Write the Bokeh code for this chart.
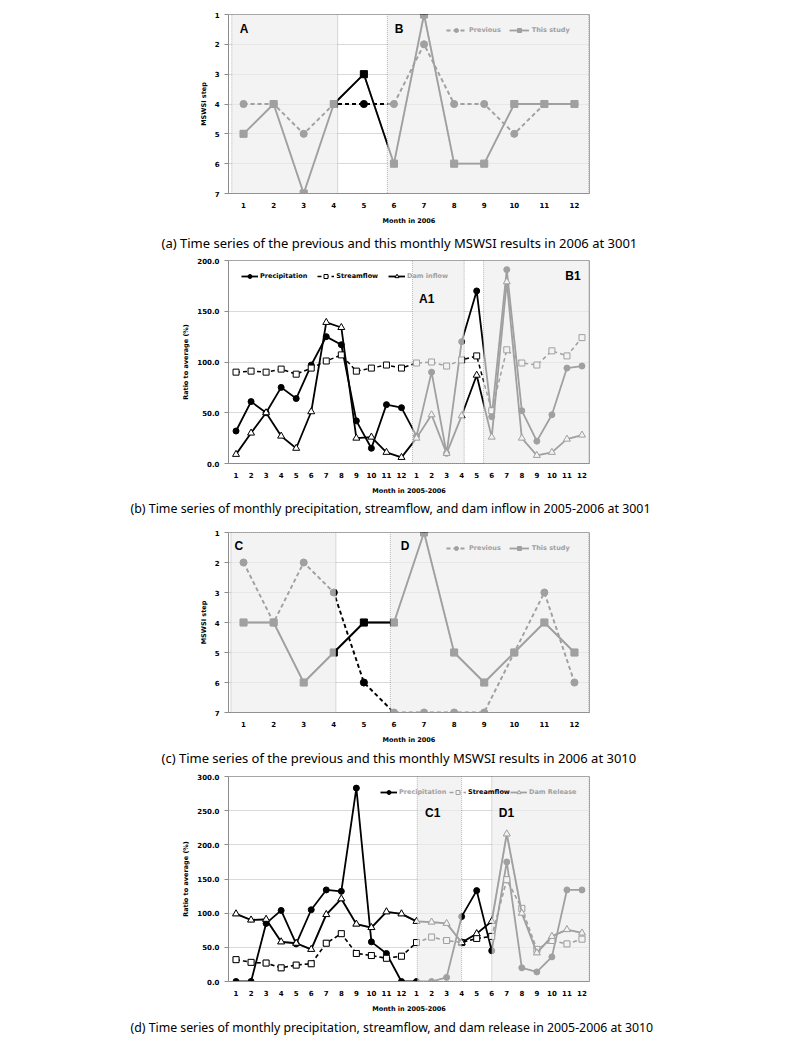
from bokeh.plotting import figure
from bokeh.models import (Range1d, FixedTicker, BoxAnnotation, Label, Legend,
                          LegendItem, Title, PrintfTickFormatter)
from bokeh.layouts import column
from bokeh.embed import file_html
from bokeh.resources import INLINE

# ---------------- data ----------------
months_12 = list(range(1, 13))
months_24 = list(range(1, 25))
month_ticks_24 = [str(m) for m in range(1, 13)] + [str(m) for m in range(1, 13)]

# (a) MSWSI step, 2006 at 3001
a_previous = [4, 4, 5, 4, 4, 4, 2, 4, 4, 5, 4, 4]
a_this_study = [5, 4, 7, 4, 3, 6, 1, 6, 6, 4, 4, 4]

# (b) ratio to average (%), 2005-2006 at 3001
b_precipitation = [32, 61, 50, 75, 64, 97, 125, 117, 42, 15, 58, 55,
                   27, 90, 10, 120, 170, 46, 191, 52, 22, 48, 94, 96]
b_streamflow = [90, 91, 90, 93, 88, 94, 101, 107, 91, 94, 97, 94,
                99, 100, 96, 102, 106, 52, 112, 99, 97, 111, 106, 124]
b_dam_inflow = [9, 30, 50, 27, 15, 51, 139, 134, 25, 26, 11, 6,
                25, 48, 10, 47, 87, 26, 179, 25, 8, 11, 24, 28]

# (c) MSWSI step, 2006 at 3010
c_previous = [2, 4, 2, 3, 6, 7, 7, 7, 7, 5, 3, 6]
c_this_study = [4, 4, 6, 5, 4, 4, 1, 5, 6, 5, 4, 5]

# (d) ratio to average (%), 2005-2006 at 3010
d_precipitation = [0, 0, 85, 104, 55, 105, 134, 132, 283, 58, 41, 0,
                   0, 0, 6, 95, 133, 45, 175, 20, 14, 36, 134, 134]
d_streamflow = [32, 28, 27, 20, 24, 26, 56, 70, 41, 38, 34, 37,
                57, 65, 60, 57, 63, 66, 149, 107, 47, 60, 55, 62]
d_dam_release = [99, 90, 91, 58, 56, 47, 98, 121, 84, 79, 102, 99,
                 88, 87, 85, 57, 70, 88, 216, 100, 42, 66, 76, 71]

captions = [
    "(a) Time series of the previous and this monthly MSWSI results in 2006 at 3001",
    "(b) Time series of monthly precipitation, streamflow, and dam inflow in 2005-2006 at 3001",
    "(c) Time series of the previous and this monthly MSWSI results in 2006 at 3010",
    "(d) Time series of monthly precipitation, streamflow, and dam release in 2005-2006 at 3010",
]

TICK_FONT = "DejaVu Sans"
OVER_FILL = "#ededed"
OVER_ALPHA = 0.675
GRAY = "#a0a0a0"       # black seen through the shaded boxes
BOX_BG = "#f3f3f3"     # white seen through the shaded boxes


def base_fig(frame_h, min_top, min_bottom, x_rng, y_rng, ticks_x, ticks_y):
    p = figure(frame_width=361, frame_height=frame_h,
               min_border_left=228, min_border_right=211,
               min_border_top=min_top, min_border_bottom=min_bottom,
               x_range=x_rng, y_range=y_rng,
               output_backend="svg", toolbar_location=None)
    p.outline_line_color = "#a6a6a6"
    p.background_fill_color = "white"
    p.xgrid.grid_line_color = None
    p.ygrid.grid_line_color = "#d9d9d9"
    p.xaxis.ticker = FixedTicker(ticks=ticks_x)
    p.yaxis.ticker = FixedTicker(ticks=ticks_y)
    for ax in (p.xaxis[0], p.yaxis[0]):
        ax.axis_line_color = "#8c8c8c"
        ax.major_label_text_font = TICK_FONT
        ax.major_label_text_font_style = "bold"
        ax.major_label_text_font_size = "7px"
        ax.major_label_text_color = "black"
        ax.axis_label_text_font = TICK_FONT
        ax.axis_label_text_font_style = "bold"
        ax.axis_label_text_font_size = "6.5px"
        ax.axis_label_text_color = "black"
        ax.minor_tick_line_color = None
    p.xaxis.major_tick_line_color = None
    p.xaxis.major_tick_out = 0
    p.xaxis.major_label_standoff = 8
    p.xaxis.axis_label_standoff = 6
    p.yaxis.major_tick_in = 0
    p.yaxis.major_tick_out = 4
    p.yaxis.major_tick_line_color = "#8c8c8c"
    p.yaxis.major_label_standoff = 5
    p.yaxis.axis_label_standoff = 4
    return p


def add_box(p, left, right):
    p.add_layout(BoxAnnotation(left=left, right=right, fill_color=OVER_FILL,
                               fill_alpha=OVER_ALPHA, line_color="#222222",
                               line_dash="1 1", line_width=1, level="overlay"))


def add_tag(p, x, y, text):
    p.add_layout(Label(x=x, y=y, text=text, text_font="Liberation Sans",
                       text_font_style="bold", text_font_size="12px",
                       text_align="center", text_baseline="middle",
                       text_color="black", level="overlay"))


def add_caption(p, text, standoff, offset, size):
    p.add_layout(Title(text=text, align="left", text_font="Noto Sans",
                       text_font_size=size, text_font_style="normal",
                       text_color="black", offset=offset, standoff=standoff), "below")


def make_legend(items, loc, spacing, glyph_w, standoff, text_color):
    return Legend(items=items, orientation="horizontal", location=loc,
                  background_fill_alpha=0, border_line_color=None,
                  padding=0, margin=0, spacing=spacing, label_standoff=standoff,
                  glyph_width=glyph_w, glyph_height=10,
                  label_text_font=TICK_FONT, label_text_font_style="bold",
                  label_text_font_size="6.5px", label_text_color=text_color)


def mswsi_panel(prev, this, min_top, frame_h, min_bottom, cap_standoff, cap_offset,
                cap_size, boxes, tags, caption, legend_loc):
    p = base_fig(frame_h, min_top, min_bottom, Range1d(0.5, 12.5), Range1d(7, 1),
                 months_12, [1, 2, 3, 4, 5, 6, 7])
    p.xaxis.axis_label = "Month in 2006"
    p.yaxis.axis_label = "MSWSI step"
    # grey twins (hidden beneath the black series) give the legend keys the
    # colour they have when seen through the shaded box
    g1 = p.line(months_12, prev, line_color=GRAY, line_width=1.8, line_dash="4 3")
    g1s = p.scatter(months_12, prev, marker="circle", size=7, fill_color=GRAY, line_color=GRAY)
    g2 = p.line(months_12, this, line_color=GRAY, line_width=1.8)
    g2s = p.scatter(months_12, this, marker="square", size=7, fill_color=GRAY, line_color=GRAY)
    p.line(months_12, prev, line_color="black", line_width=1.8, line_dash="4 3")
    p.scatter(months_12, prev, marker="circle", size=7, fill_color="black", line_color="black")
    p.line(months_12, this, line_color="black", line_width=1.8)
    p.scatter(months_12, this, marker="square", size=7, fill_color="black", line_color="black")
    p.add_layout(make_legend([LegendItem(label="Previous", renderers=[g1, g1s]),
                              LegendItem(label="This study", renderers=[g2, g2s])],
                             legend_loc, 8, 20, 3, GRAY))
    for b in boxes:
        add_box(p, *b)
    for t in tags:
        add_tag(p, *t)
    add_caption(p, caption, cap_standoff, cap_offset, cap_size)
    return p


def series_renderers(p, name, xs, ys, color, fill):
    if name == "Precipitation":
        return [p.line(xs, ys, line_color=color, line_width=1.8),
                p.scatter(xs, ys, marker="circle", size=6, fill_color=color, line_color=color)]
    if name == "Streamflow":
        return [p.line(xs, ys, line_color=color, line_width=1.5, line_dash="4 3"),
                p.scatter(xs, ys, marker="square", size=6, fill_color=fill, line_color=color)]
    return [p.line(xs, ys, line_color=color, line_width=1.8),
            p.scatter(xs, ys, marker="triangle", size=7, fill_color=fill, line_color=color)]


def ratio_panel(prec, stream, third, third_name, ymax, yticks, min_top, frame_h,
                min_bottom, cap_standoff, cap_offset, cap_size, boxes, tags, caption,
                legend_spec):
    p = base_fig(frame_h, min_top, min_bottom, Range1d(0.5, 24.5), Range1d(0, ymax),
                 months_24, yticks)
    p.xaxis.major_label_overrides = {m: lab for m, lab in zip(months_24, month_ticks_24)}
    p.yaxis.formatter = PrintfTickFormatter(format="%.1f")
    p.xaxis.axis_label = "Month in 2005-2006"
    p.yaxis.axis_label = "Ratio to average (%)"
    series = {"Precipitation": prec, "Streamflow": stream, third_name: third}
    gray_names = [lab for labels, gk, _, _, _ in legend_spec if gk for lab in labels]
    proxy = {n: series_renderers(p, n, months_24, series[n], GRAY, BOX_BG)
             for n in gray_names}
    real = {n: series_renderers(p, n, months_24, series[n], "black", "white")
            for n in ["Precipitation", "Streamflow", third_name]}
    for labels, gray_key, text_color, loc, spacing in legend_spec:
        src = proxy if gray_key else real
        items = [LegendItem(label=lab, renderers=src[lab]) for lab in labels]
        p.add_layout(make_legend(items, loc, spacing, 17, 2, text_color))
    for b in boxes:
        add_box(p, *b)
    for t in tags:
        add_tag(p, *t)
    add_caption(p, caption, cap_standoff, cap_offset, cap_size)
    return p


pa = mswsi_panel(a_previous, a_this_study, 14, 179, 62, 8, -67, "13px",
                 [(0.61, 4.13), (5.78, 12.47)],
                 [(1.02, 1.47, "A"), (6.17, 1.47, "B")],
                 captions[0], (218, 158))

pb = ratio_panel(b_precipitation, b_streamflow, b_dam_inflow, "Dam inflow", 200,
                 [0, 50, 100, 150, 200], 5, 203, 59, 1, -98, "12.4px",
                 [(12.73, 16.17), (17.46, 24.45)],
                 [(13.68, 161.6, "A1"), (23.4, 185.2, "B1")],
                 captions[1],
                 [(["Precipitation", "Streamflow"], False, "black", (13, 182), 10),
                  (["Dam inflow"], False, GRAY, (160, 182), 10)])

pc = mswsi_panel(c_previous, c_this_study, 10, 180, 59, 1, -67, "13px",
                 [(0.58, 4.07), (5.88, 12.47)],
                 [(0.84, 1.44, "C"), (6.37, 1.44, "D")],
                 captions[2], (218, 159))

pd = ratio_panel(d_precipitation, d_streamflow, d_dam_release, "Dam Release", 300,
                 [0, 50, 100, 150, 200, 250, 300], 5, 205, 58, 3, -98, "12.3px",
                 [(13.05, 16.0), (18.0, 24.48)],
                 [(14.08, 246.4, "C1"), (18.98, 246.4, "D1")],
                 captions[3],
                 [(["Precipitation"], False, GRAY, (152, 184), 3),
                  (["Streamflow"], True, "black", (221, 184), 3),
                  (["Dam Release"], True, GRAY, (282, 184), 3)])

layout = column(pa, pb, pc, pd, spacing=0)
open("out.html", "w").write(file_html(layout, INLINE))
